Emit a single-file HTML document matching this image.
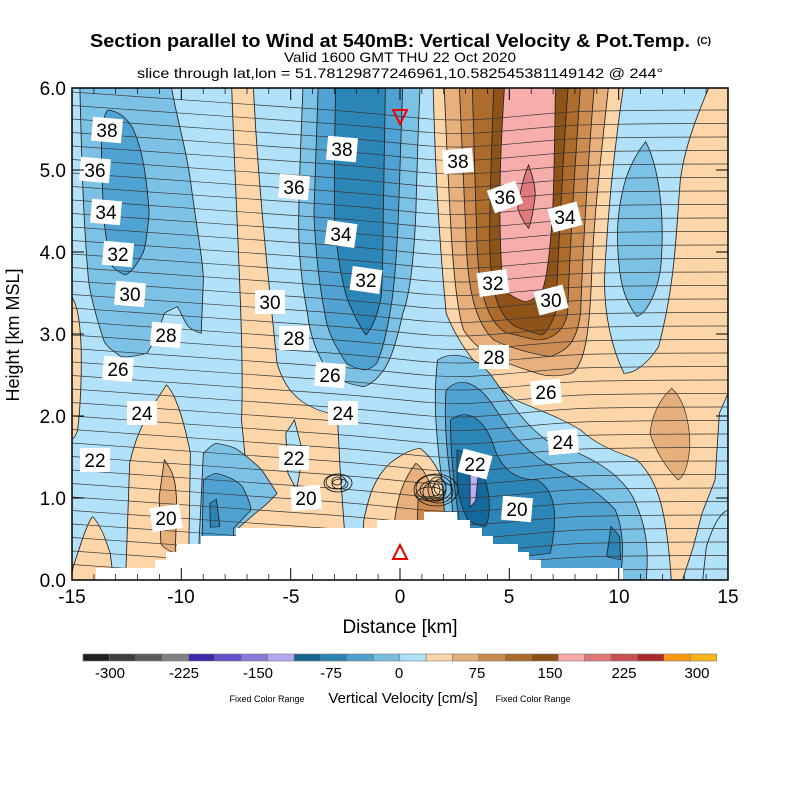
<!DOCTYPE html>
<html><head><meta charset="utf-8"><style>
html,body{margin:0;padding:0;background:#fff;}
svg{display:block;font-family:"Liberation Sans",sans-serif;}
</style></head><body>
<svg width="800" height="800" viewBox="0 0 800 800" xmlns="http://www.w3.org/2000/svg">
<defs>
<clipPath id="pc"><rect x="72" y="88" width="656" height="492"/></clipPath>
<path id="ln" d="M72,0 C150,6 250,12 330,18 S420,28 460,28 S540,20 600,19 S700,18 728,18" fill="none" stroke="#3a3a3a" stroke-width="0.7"/>
</defs>
<rect width="800" height="800" fill="#fff"/>
<text x="390" y="47" font-size="18" font-weight="bold" text-anchor="middle" textLength="600" lengthAdjust="spacingAndGlyphs">Section parallel to Wind at 540mB: Vertical Velocity &amp; Pot.Temp.</text>
<text x="704" y="44" font-size="10" font-weight="bold" text-anchor="middle">(C)</text>
<text x="400" y="62" font-size="14" text-anchor="middle" textLength="232" lengthAdjust="spacingAndGlyphs">Valid 1600 GMT THU 22 Oct 2020</text>
<text x="400" y="78" font-size="14" text-anchor="middle" textLength="526" lengthAdjust="spacingAndGlyphs">slice through lat,lon = 51.78129877246961,10.582545381149142 @ 244°</text>

<g clip-path="url(#pc)">
<rect x="72" y="88" width="656" height="492" fill="#b2e2fa"/>
<g transform="matrix(0.4336 0 0 0.3333 60.29 80)" stroke="#222" stroke-width="2">
<path fill="#fcd5a8" d="M860,24 L1560,24 L1560,880 L1520,1000 L1510,1200 L1480,1300 L1460,1400 L1430,1520 L1410,1520 C1400,1300 1380,1200 1330,1140 C1300,1120 1250,1110 1200,1050 C1150,1010 1100,990 1050,960 C980,900 920,800 890,700 C875,500 865,300 860,24 Z"/>
<path fill="#e6b07c" stroke-width="1.5" d="M1410,925 C1440,960 1452,1030 1452,1100 C1448,1160 1438,1190 1425,1200 C1395,1160 1372,1110 1360,1060 C1365,1000 1385,955 1410,925 Z"/>
<path fill="#b2e2fa" d="M1300,10 L1500,10 C1470,100 1440,200 1430,300 C1420,450 1420,600 1380,800 C1350,860 1320,880 1300,880 C1270,800 1255,700 1255,600 C1262,400 1278,200 1300,10 Z"/>
<path fill="#7cc2e6" d="M1350,185 C1380,260 1395,400 1385,560 C1375,650 1350,700 1330,710 C1300,660 1285,600 1285,450 C1290,330 1310,250 1350,185 Z"/>
<path fill="#e7b07c" d="M885,10 L1265,10 C1250,200 1230,400 1225,600 C1220,760 1210,850 1180,880 C1150,890 1120,890 1100,880 C1030,850 970,830 930,750 C905,650 898,400 885,10 Z"/>
<path fill="#cc8b50" d="M920,10 L1232,10 C1220,200 1205,500 1200,700 C1190,790 1170,810 1130,830 C1080,820 1030,800 1000,780 C950,720 938,600 935,450 C930,300 925,150 920,10 Z"/>
<path fill="#ad6b2c" d="M950,10 L1200,10 C1190,200 1175,500 1170,700 C1160,760 1130,780 1100,780 C1060,770 1040,760 1030,760 C975,720 962,600 960,450 C956,300 952,150 950,10 Z"/>
<path fill="#8f5317" d="M1000,10 L1172,10 C1160,200 1150,500 1142,700 C1130,740 1120,760 1110,765 C1080,755 1060,745 1050,740 C1000,700 990,600 990,450 C992,300 996,150 1000,10 Z"/>
<path fill="#f8adad" d="M1025,10 L1142,10 C1140,200 1138,350 1135,400 C1128,550 1118,620 1108,640 C1095,655 1080,665 1070,665 C1040,650 1020,630 1020,620 C1012,450 1010,300 1025,10 Z"/>
<path fill="#e07a7a" d="M1080,255 C1090,290 1097,330 1095,350 C1090,400 1085,430 1080,445 C1065,420 1058,400 1055,385 C1060,340 1068,290 1080,255 Z"/>
<path fill="#7cc2e6" d="M45,10 L255,10 C265,100 290,200 300,300 C315,450 330,550 330,600 L325,760 C310,755 300,745 295,740 C285,720 275,690 270,680 C255,690 245,695 240,700 C225,760 210,800 200,820 C170,830 150,832 140,830 C120,810 105,800 100,780 C80,700 70,650 65,600 C55,450 50,300 45,10 Z"/>
<path fill="#4fa2d2" d="M110,90 C135,95 150,110 165,140 C190,200 200,300 205,400 C200,470 195,510 190,520 C175,560 160,580 150,585 C130,575 125,565 120,560 C108,500 102,450 100,400 C96,300 94,200 95,180 C97,130 102,100 110,90 Z"/>
<path fill="#7cc2e6" d="M560,10 L830,10 C825,150 822,300 820,400 C815,550 805,650 790,700 C775,790 760,850 740,880 C725,905 712,915 700,920 C670,915 640,900 620,880 C590,820 575,760 570,700 C555,600 548,500 550,400 C552,250 556,150 560,10 Z"/>
<path fill="#4fa2d2" d="M595,10 L790,10 C786,150 782,300 780,400 C775,550 768,650 760,700 C750,780 740,820 730,850 C718,865 708,870 700,870 C680,865 670,858 660,850 C630,790 615,750 610,700 C595,600 588,500 585,400 C588,250 592,150 595,10 Z"/>
<path fill="#2c85b7" d="M635,10 L750,10 C748,150 746,300 745,400 C744,550 742,620 740,650 C730,720 715,750 705,765 C690,740 675,700 660,650 C645,580 636,500 632,400 C632,250 633,150 635,10 Z"/>
<path fill="#fcd5a8" d="M20,640 C35,660 45,700 48,800 C50,900 45,1000 40,1050 C35,1070 30,1080 20,1080 Z"/>
<path fill="#fcd5a8" d="M395,10 L445,10 C455,300 480,600 500,850 C520,940 560,980 620,1000 L640,1030 L645,1160 L655,1345 L405,1345 L430,1180 L418,1020 C425,800 405,400 395,10 Z"/>
<path fill="#b2e2fa" d="M520,1060 L540,1020 L560,1120 L545,1230 L525,1180 Z"/>
<path fill="#fcd5a8" d="M150,1520 L160,1150 C175,1060 200,1000 245,915 C265,940 285,1020 300,1120 L295,1520 Z"/>
<path fill="#e7b07c" d="M240,1140 C258,1170 270,1200 268,1300 L265,1420 C245,1410 235,1400 232,1390 L228,1250 Z"/>
<path fill="#fcd5a8" d="M20,1520 L30,1460 C50,1380 65,1320 75,1310 C95,1340 105,1380 115,1420 L125,1520 Z"/>
<path fill="#7cc2e6" d="M315,1520 L330,1120 C345,1100 355,1090 360,1090 C380,1095 400,1100 410,1110 C440,1140 460,1160 470,1180 L500,1240 C480,1270 460,1290 450,1300 L410,1345 L405,1520 Z"/>
<path fill="#4fa2d2" d="M325,1520 L330,1200 C345,1185 355,1180 360,1180 C390,1190 410,1205 420,1220 C432,1250 438,1270 440,1290 L400,1345 L395,1520 Z"/>
<path fill="#2c85b7" d="M345,1270 L360,1258 L368,1340 L346,1342 Z"/>
<path fill="#fcd5a8" d="M690,1520 L700,1320 C710,1260 720,1200 760,1150 C790,1120 810,1108 830,1105 C855,1130 875,1170 890,1230 L900,1520 Z"/>
<path fill="#e7b07c" d="M770,1340 C775,1260 790,1200 820,1150 C845,1170 860,1230 870,1300 L870,1520 L770,1520 Z"/>
<path fill="#cc8b50" d="M820,1520 L825,1260 C850,1240 880,1250 900,1280 L900,1520 Z"/>
<path fill="#7cc2e6" d="M870,840 C900,815 950,820 990,880 C1030,950 1060,1020 1120,1080 C1200,1120 1280,1160 1320,1250 C1350,1330 1360,1400 1350,1520 L900,1520 L880,1200 C865,1050 860,950 870,840 Z"/>
<path fill="#4fa2d2" d="M890,930 C920,890 960,900 1000,980 C1030,1040 1060,1100 1120,1150 C1180,1190 1240,1230 1280,1290 C1300,1350 1300,1420 1290,1520 L915,1520 L900,1200 C890,1100 885,1000 890,930 Z"/>
<path fill="#2c85b7" d="M900,1020 C940,980 980,1020 1000,1100 C1020,1180 1060,1200 1100,1200 C1140,1230 1150,1300 1130,1420 L1000,1440 L920,1320 C905,1200 900,1100 900,1020 Z"/>
<path fill="#2c85b7" d="M1270,1340 L1290,1370 L1292,1440 L1260,1430 Z"/>
<path fill="#14689e" d="M915,1110 C940,1115 960,1140 980,1200 C995,1260 990,1320 980,1340 C960,1335 945,1325 940,1320 C925,1280 918,1250 915,1200 Z"/>
<path fill="#b8b0f2" d="M945,1180 L965,1168 L958,1262 L945,1282 Z"/>
<path fill="#b2e2fa" d="M1540,1290 C1520,1300 1505,1340 1490,1400 L1480,1520 L1560,1520 Z"/>
</g>
<g>
<use href="#ln" y="92"/><use href="#ln" y="105.5"/><use href="#ln" y="119"/><use href="#ln" y="132.5"/><use href="#ln" y="146"/><use href="#ln" y="159.5"/><use href="#ln" y="173"/><use href="#ln" y="186.5"/><use href="#ln" y="200"/><use href="#ln" y="213.5"/><use href="#ln" y="227"/><use href="#ln" y="240.5"/><use href="#ln" y="254"/><use href="#ln" y="267.5"/><use href="#ln" y="281"/><use href="#ln" y="294.5"/><use href="#ln" y="308"/><use href="#ln" y="321.5"/><use href="#ln" y="335"/><use href="#ln" y="348.5"/><use href="#ln" y="362"/><use href="#ln" y="375.5"/><use href="#ln" y="389"/><use href="#ln" y="402.5"/><use href="#ln" y="416"/><use href="#ln" y="429.5"/><use href="#ln" y="443"/><use href="#ln" y="456.5"/><use href="#ln" y="470"/><use href="#ln" y="483.5"/><use href="#ln" y="497"/><use href="#ln" y="510.5"/><use href="#ln" y="524"/><use href="#ln" y="537.5"/><use href="#ln" y="551"/><use href="#ln" y="564.5"/>
</g>
<g fill="none" stroke="#111" stroke-width="0.8">
<ellipse cx="338" cy="483" rx="14" ry="9"/><ellipse cx="336" cy="482" rx="10" ry="7"/><ellipse cx="340" cy="484" rx="8" ry="5"/><ellipse cx="337" cy="481" rx="5" ry="4"/>
<ellipse cx="436" cy="490" rx="22" ry="16"/><ellipse cx="434" cy="488" rx="18" ry="13"/><ellipse cx="438" cy="492" rx="15" ry="11"/><ellipse cx="432" cy="490" rx="12" ry="9"/><ellipse cx="437" cy="489" rx="9" ry="12"/><ellipse cx="440" cy="487" rx="6" ry="8"/><ellipse cx="430" cy="494" rx="14" ry="7"/><ellipse cx="436" cy="490" rx="4" ry="6"/>
</g>
<path fill="#fff" d="M96,581 L96,568 L155,568 L155,560 L166,560 L166,552 L177,552 L177,544 L201,544 L201,536 L236,536 L236,528 L377,528 L377,520 L424,520 L424,512 L457,512 L457,520 L470,520 L470,528 L482,528 L482,536 L493,536 L493,544 L518,544 L518,552 L529,552 L529,560 L541,560 L541,568 L623,568 L623,581 Z"/>
</g>
<path d="M393,110 L407,110 L400,124 Z" fill="none" stroke="#e00" stroke-width="2"/>
<path d="M393,559 L407,559 L400,545 Z" fill="none" stroke="#e00" stroke-width="2"/>
<g font-size="19" text-anchor="middle">
<g fill="#fff">
<rect x="92" y="118" width="30" height="24" transform="rotate(5 107 130)"/>
<rect x="80" y="158" width="30" height="24" transform="rotate(5 95 170)"/>
<rect x="91" y="200" width="30" height="24" transform="rotate(5 106 212)"/>
<rect x="103" y="242" width="30" height="24" transform="rotate(5 118 254)"/>
<rect x="115" y="282" width="30" height="24" transform="rotate(5 130 294)"/>
<rect x="151" y="323" width="30" height="24" transform="rotate(5 166 335)"/>
<rect x="103" y="357" width="30" height="24" transform="rotate(5 118 369)"/>
<rect x="127" y="401" width="30" height="24"/>
<rect x="80" y="448" width="30" height="24"/>
<rect x="151" y="506" width="30" height="24" transform="rotate(-8 166 518)"/>
<rect x="327" y="137" width="30" height="24" transform="rotate(5 342 149)"/>
<rect x="279" y="175" width="30" height="24" transform="rotate(5 294 187)"/>
<rect x="326" y="222" width="30" height="24" transform="rotate(8 341 234)"/>
<rect x="351" y="268" width="30" height="24" transform="rotate(8 366 280)"/>
<rect x="255" y="290" width="30" height="24"/>
<rect x="279" y="326" width="30" height="24"/>
<rect x="315" y="363" width="30" height="24" transform="rotate(5 330 375)"/>
<rect x="328" y="401" width="30" height="24"/>
<rect x="279" y="446" width="30" height="24"/>
<rect x="291" y="486" width="30" height="24" transform="rotate(-5 306 498)"/>
<rect x="443" y="149" width="30" height="24" transform="rotate(-5 458 161)"/>
<rect x="490" y="185" width="30" height="24" transform="rotate(-20 505 197)"/>
<rect x="550" y="205" width="30" height="24" transform="rotate(-15 565 217)"/>
<rect x="478" y="271" width="30" height="24" transform="rotate(-8 493 283)"/>
<rect x="536" y="288" width="30" height="24" transform="rotate(-15 551 300)"/>
<rect x="479" y="345" width="30" height="24"/>
<rect x="531" y="380" width="30" height="24" transform="rotate(-5 546 392)"/>
<rect x="548" y="430" width="30" height="24" transform="rotate(-5 563 442)"/>
<rect x="460" y="452" width="30" height="24" transform="rotate(15 475 464)"/>
<rect x="502" y="497" width="30" height="24" transform="rotate(5 517 509)"/>
</g>
<g fill="#000">
<text x="107" y="137">38</text><text x="95" y="177">36</text><text x="106" y="219">34</text><text x="118" y="261">32</text><text x="130" y="301">30</text><text x="166" y="342">28</text><text x="118" y="376">26</text><text x="142" y="420">24</text><text x="95" y="467">22</text><text x="166" y="525">20</text>
<text x="342" y="156">38</text><text x="294" y="194">36</text><text x="341" y="241">34</text><text x="366" y="287">32</text><text x="270" y="309">30</text><text x="294" y="345">28</text><text x="330" y="382">26</text><text x="343" y="420">24</text><text x="294" y="465">22</text><text x="306" y="505">20</text>
<text x="458" y="168">38</text><text x="505" y="204">36</text><text x="565" y="224">34</text><text x="493" y="290">32</text><text x="551" y="307">30</text><text x="494" y="364">28</text><text x="546" y="399">26</text><text x="563" y="449">24</text><text x="475" y="471">22</text><text x="517" y="516">20</text>
</g>
</g>
<rect x="72" y="88" width="656" height="492" fill="none" stroke="#000" stroke-width="1.5"/>
<g stroke="#000" stroke-width="1">
<path d="M72,580v-12M181.3,580v-12M290.7,580v-12M400,580v-12M509.3,580v-12M618.7,580v-12M728,580v-12
M72,88v12M181.3,88v12M290.7,88v12M400,88v12M509.3,88v12M618.7,88v12M728,88v12
M72,580h12M72,498h12M72,416h12M72,334h12M72,252h12M72,170h12M72,88h12
M728,580h-12M728,498h-12M728,416h-12M728,334h-12M728,252h-12M728,170h-12M728,88h-12"/>
<path stroke-width="0.7" d="M93.9,580v-6M115.7,580v-6M137.6,580v-6M159.5,580v-6M203.2,580v-6M225.1,580v-6M247,580v-6M268.8,580v-6M312.5,580v-6M334.4,580v-6M356.3,580v-6M378.1,580v-6M421.9,580v-6M443.7,580v-6M465.6,580v-6M487.5,580v-6M531.2,580v-6M553.1,580v-6M575,580v-6M596.8,580v-6M640.5,580v-6M662.4,580v-6M684.3,580v-6M706.1,580v-6
M93.9,88v6M115.7,88v6M137.6,88v6M159.5,88v6M203.2,88v6M225.1,88v6M247,88v6M268.8,88v6M312.5,88v6M334.4,88v6M356.3,88v6M378.1,88v6M421.9,88v6M443.7,88v6M465.6,88v6M487.5,88v6M531.2,88v6M553.1,88v6M575,88v6M596.8,88v6M640.5,88v6M662.4,88v6M684.3,88v6M706.1,88v6"/>
</g>
<g font-size="19" text-anchor="middle">
<text x="72" y="603">-15</text><text x="181" y="603">-10</text><text x="291" y="603">-5</text><text x="400" y="603">0</text><text x="509" y="603">5</text><text x="619" y="603">10</text><text x="728" y="603">15</text>
</g>
<g font-size="19" text-anchor="end">
<text x="66" y="587">0.0</text><text x="66" y="505">1.0</text><text x="66" y="423">2.0</text><text x="66" y="341">3.0</text><text x="66" y="259">4.0</text><text x="66" y="177">5.0</text><text x="66" y="95">6.0</text>
</g>
<text x="400" y="633" font-size="19" text-anchor="middle">Distance [km]</text>
<text transform="translate(19 335) rotate(-90)" font-size="18" text-anchor="middle">Height [km MSL]</text>
<g stroke="#777" stroke-width="0.6">
<rect x="83" y="654" width="26.4" height="7" fill="#1e1e1e"/><rect x="109.4" y="654" width="26.4" height="7" fill="#3c3c3c"/><rect x="135.8" y="654" width="26.4" height="7" fill="#5a5a5a"/><rect x="162.2" y="654" width="26.4" height="7" fill="#828282"/>
<rect x="188.6" y="654" width="26.4" height="7" fill="#3c28a8"/><rect x="215" y="654" width="26.4" height="7" fill="#6450c8"/><rect x="241.4" y="654" width="26.4" height="7" fill="#8c78dc"/><rect x="267.8" y="654" width="26.4" height="7" fill="#b4aaf0"/>
<rect x="294.2" y="654" width="26.4" height="7" fill="#14648e"/><rect x="320.6" y="654" width="26.4" height="7" fill="#2882b4"/><rect x="347" y="654" width="26.4" height="7" fill="#4ba0cc"/><rect x="373.4" y="654" width="26.4" height="7" fill="#78bee0"/>
<rect x="399.8" y="654" width="26.4" height="7" fill="#aee0f8"/><rect x="426.2" y="654" width="26.4" height="7" fill="#fdd5a8"/><rect x="452.6" y="654" width="26.4" height="7" fill="#e6b07c"/><rect x="479" y="654" width="26.4" height="7" fill="#c88c50"/>
<rect x="505.4" y="654" width="26.4" height="7" fill="#aa6a2c"/><rect x="531.8" y="654" width="26.4" height="7" fill="#8c5014"/><rect x="558.2" y="654" width="26.4" height="7" fill="#f8aaaa"/><rect x="584.6" y="654" width="26.4" height="7" fill="#e07878"/>
<rect x="611" y="654" width="26.4" height="7" fill="#c85050"/><rect x="637.4" y="654" width="26.4" height="7" fill="#aa2828"/><rect x="663.8" y="654" width="26.4" height="7" fill="#ff9614"/><rect x="690.2" y="654" width="26.4" height="7" fill="#fab414"/>
</g>
<g font-size="15" text-anchor="middle">
<text x="110" y="678">-300</text><text x="184" y="678">-225</text><text x="258" y="678">-150</text><text x="331" y="678">-75</text><text x="399" y="678">0</text><text x="477" y="678">75</text><text x="550" y="678">150</text><text x="624" y="678">225</text><text x="697" y="678">300</text>
</g>
<text x="267" y="702" font-size="9" text-anchor="middle">Fixed Color Range</text>
<text x="403" y="703" font-size="15" text-anchor="middle">Vertical Velocity [cm/s]</text>
<text x="533" y="702" font-size="9" text-anchor="middle">Fixed Color Range</text>
</svg>
</body></html>
